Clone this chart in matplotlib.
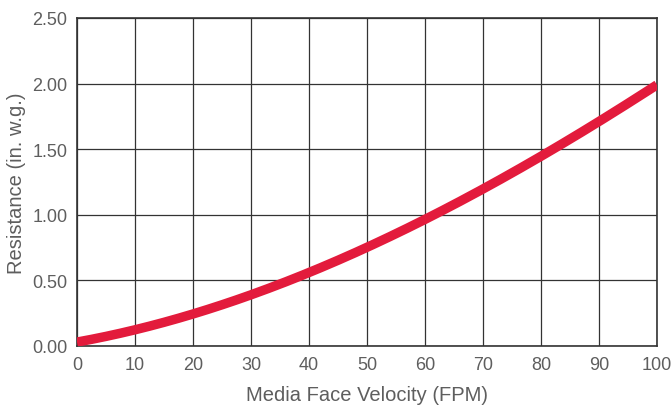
import matplotlib
matplotlib.use("Agg")
from matplotlib import pyplot as plt
import numpy as np

# Resistance curve
velocity = [0, 10, 20, 30, 40, 50, 60, 70, 80, 90, 100]
resistance = [0.03, 0.12, 0.25, 0.39, 0.56, 0.75, 0.96, 1.20, 1.45, 1.71, 1.99]

x_ticks = list(range(0, 101, 10))
y_ticks = [0.0, 0.5, 1.0, 1.5, 2.0, 2.5]

plt.rcParams['font.family'] = ['Liberation Sans', 'DejaVu Sans']
text_color = "#5e5e5e"

fig = plt.figure(figsize=(6.71, 4.06), dpi=100)
ax = fig.add_axes([77 / 671, 1 - 347 / 406, 580 / 671, 328 / 406])

# smooth the line through the read points
xs = np.linspace(0, 100, 201)
coef = np.polyfit(velocity, resistance, 3)
ax.plot(xs, np.polyval(coef, xs), color="#E31B3C", linewidth=6.8,
        solid_capstyle="butt", zorder=3, clip_on=True)

ax.set_xlim(0, 100)
ax.set_ylim(0, 2.5)
ax.set_xticks(x_ticks)
ax.set_yticks(y_ticks)
ax.set_yticklabels(["%.2f" % v for v in y_ticks])
ax.grid(True, color="#333333", linewidth=0.9)
ax.set_axisbelow(True)
ax.tick_params(length=0, labelsize=13, colors=text_color, pad=7)
for s in ax.spines.values():
    s.set_color("#333333")
    s.set_linewidth(1.2)

ax.set_xlabel("Media Face Velocity (FPM)", fontsize=14.5, color=text_color, labelpad=9)
ax.set_ylabel("Resistance (in. w.g.)", fontsize=14.5, color=text_color, labelpad=4)

fig.savefig("out.png", dpi=100)
